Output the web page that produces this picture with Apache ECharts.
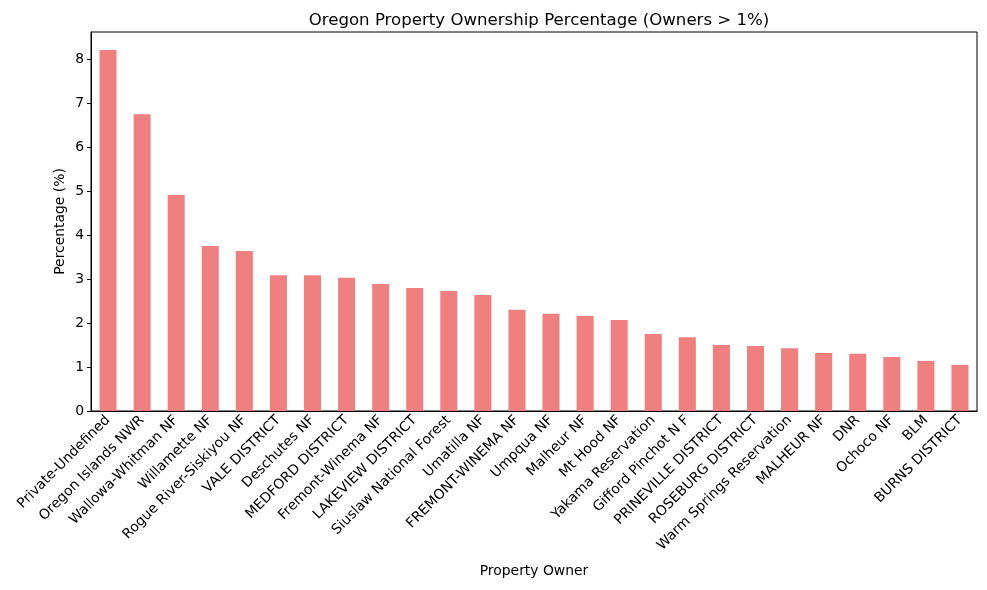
<!DOCTYPE html>
<html>
<head>
  <meta charset="utf-8" />
  <script src="https://cdn.jsdelivr.net/npm/echarts@6/dist/echarts.min.js"></script>
  <style>
    html, body { margin: 0; padding: 0; background: #fff; }
    #chart { width: 987px; height: 590px; }
  </style>
</head>
<body>
  <div id="chart"></div>
  <script>
    // 類別與數值
    const owners = [
      'Private-Undefined', 'Oregon Islands NWR', 'Wallowa-Whitman NF', 'Willamette NF',
      'Rogue River-Siskiyou NF', 'VALE DISTRICT', 'Deschutes NF', 'MEDFORD DISTRICT',
      'Fremont-Winema NF', 'LAKEVIEW DISTRICT', 'Siuslaw National Forest', 'Umatilla NF',
      'FREMONT-WINEMA NF', 'Umpqua NF', 'Malheur NF', 'Mt Hood NF', 'Yakama Reservation',
      'Gifford Pinchot N F', 'PRINEVILLE DISTRICT', 'ROSEBURG DISTRICT',
      'Warm Springs Reservation', 'MALHEUR NF', 'DNR', 'Ochoco NF', 'BLM', 'BURNS DISTRICT'
    ]
    const percentages = [
      8.21, 6.75, 4.91, 3.75, 3.64, 3.09, 3.09, 3.03, 2.89, 2.80, 2.73, 2.64,
      2.30, 2.21, 2.16, 2.07, 1.75, 1.68, 1.50, 1.48, 1.43, 1.32, 1.30, 1.23, 1.14, 1.05
    ]
    const yTicks = [0, 1, 2, 3, 4, 5, 6, 7, 8]

    const font = 'DejaVu Sans'
    let chart = echarts.init(document.getElementById('chart'))
    chart.setOption({
      animation: false,
      title: {
        text: 'Oregon Property Ownership Percentage (Owners > 1%)',
        left: 534,
        textAlign: 'center',
        top: 7,
        textStyle: { fontFamily: font, fontSize: 16.6, fontWeight: 'normal', color: '#000' }
      },
      grid: {
        left: 91,
        right: 10,
        top: 32,
        bottom: 179,
        show: true,
        borderColor: '#000',
        borderWidth: 1
      },
      xAxis: {
        type: 'category',
        data: owners,
        name: 'Property Owner',
        nameLocation: 'middle',
        nameGap: 153,
        nameTextStyle: { fontFamily: font, fontSize: 13.9, color: '#000' },
        axisLine: { lineStyle: { color: '#000' } },
        axisTick: { alignWithLabel: true, length: 4, lineStyle: { color: '#000' } },
        axisLabel: { rotate: 45, interval: 0, margin: 7, fontFamily: font, fontSize: 13.9, color: '#000' },
        splitLine: { show: false }
      },
      yAxis: {
        type: 'value',
        min: 0,
        max: 8.62,
        interval: 1,
        name: 'Percentage (%)',
        nameLocation: 'middle',
        nameGap: 24,
        nameMoveOverlap: false,
        nameTextStyle: { fontFamily: font, fontSize: 13.9, color: '#000' },
        axisLine: { show: true, lineStyle: { color: '#000' } },
        axisTick: { show: true, length: 4, lineStyle: { color: '#000' }, customValues: yTicks },
        axisLabel: { fontFamily: font, fontSize: 13.9, color: '#000', margin: 7, customValues: yTicks },
        splitLine: { show: false }
      },
      series: [
        {
          name: 'Percentage',
          type: 'bar',
          data: percentages,
          barWidth: '50%',
          itemStyle: { color: '#F08080' }
        }
      ]
    })
  </script>
</body>
</html>
